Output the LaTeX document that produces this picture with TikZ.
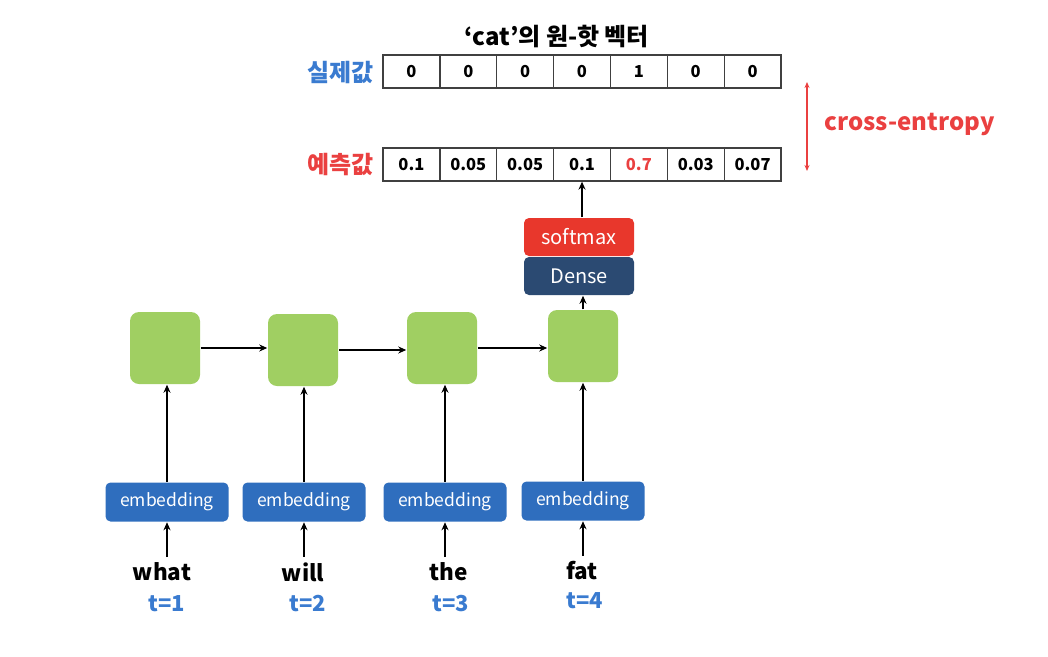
\documentclass[tikz,border=0pt]{standalone}
\usepackage{fontspec}
\setmainfont{Noto Sans CJK KR}
\usetikzlibrary{arrows.meta}
\definecolor{cellgreen}{HTML}{A0CF62}
\definecolor{embblue}{HTML}{2F6EBE}
\definecolor{labblue}{HTML}{3A7BD0}
\definecolor{softred}{HTML}{E8372C}
\definecolor{densblue}{HTML}{2B4A72}
\definecolor{lossred}{HTML}{EA4040}
\newcommand{\fsz}[1]{\fontsize{#1}{#1}\selectfont}

\begin{document}
\begin{tikzpicture}[x=1pt, y=-1pt, line width=1.5pt, >={Stealth[length=8pt,width=7pt]},
    every node/.style={inner sep=0pt},
    cell/.style={draw=black!75, line width=1.3pt, minimum width=56.9pt,
      minimum height=33pt, font=\fsz{16.5}\bfseries},
    rnn/.style={fill=cellgreen, rounded corners=9pt, minimum width=70pt,
      minimum height=72pt},
    embed/.style={fill=embblue, rounded corners=5pt, minimum width=123pt,
      minimum height=39pt, text=white, font=\fsz{17.5}},
    layer/.style={rounded corners=5pt, minimum width=110pt,
      minimum height=38pt, text=white, font=\fsz{20}},
    word/.style={font=\fsz{22.5}\bfseries},
    tstep/.style={text=labblue, font=\fsz{22}\bfseries}]
  \useasboundingbox (0,0) rectangle (1048,656);

  % one-hot target and prediction
  \node[font=\fsz{24}\bfseries] (title) at (557,36) {‘cat’의 원-핫 벡터};
  \foreach \v [count=\i] in {0,0,0,0,1,0,0}
    \node[cell] (t\i) at ({383+56.86*(\i-0.5)},71.5) {\v};
  \foreach \v/\c [count=\i] in {0.1/black,0.05/black,0.05/black,0.1/black,0.7/lossred,0.03/black,0.07/black}
    \node[cell, text=\c] (p\i) at ({383+56.86*(\i-0.5)},164.5) {\v};
  \node[text=labblue, font=\fsz{24}\bfseries, anchor=east] (real) at (374,72) {실제값};
  \node[text=lossred, font=\fsz{24}\bfseries, anchor=east] (pred) at (374,165) {예측값};
  \coordinate (ctop) at (807,82);
  \coordinate (cbot) at (807,171);
  \draw[{Stealth[length=6pt,width=5pt]}-{Stealth[length=6pt,width=5pt]},
    lossred, line width=1.2pt] (ctop) -- (cbot);
  \node[text=lossred, font=\fsz{24}\bfseries, anchor=west] (loss) at (824,124) {cross-entropy};

  % output layers
  \node[layer, fill=softred] (soft) at (579,237) {softmax};
  \node[layer, fill=densblue] (dense) at (579,276) {Dense};

  % rnn cells
  \node[rnn] (h1) at (165,348) {};
  \node[rnn] (h2) at (303,350) {};
  \node[rnn] (h3) at (442,348) {};
  \node[rnn] (h4) at (583,346) {};

  \node[embed] (e1) at (167,502) {embedding};
  \node[embed] (e2) at (304,502) {embedding};
  \node[embed] (e3) at (445,502) {embedding};
  \node[embed] (e4) at (583,501) {embedding};

  \node[word] (w1) at (162,572) {what};
  \node[word] (w2) at (303,572) {will};
  \node[word] (w3) at (449,572) {the};
  \node[word] (w4) at (582,571) {fat};

  \node[tstep] (s1) at (167,604) {t=1};
  \node[tstep] (s2) at (308,604) {t=2};
  \node[tstep] (s3) at (451,604) {t=3};
  \node[tstep] (s4) at (585,601) {t=4};

  \draw[->] (h1.east) -- (h1.east -| h2.west);
  \draw[->] (h2.east) -- (h2.east -| h3.west);
  \draw[->] (h3.east) -- (h3.east -| h4.west);
  \draw[->] (h4.north) -- (h4.north |- dense.south);
  \draw[->] (p4.south |- soft.north) -- (p4.south);
  \foreach \i in {1,...,4} {
    \draw[->] (e\i) -- (e\i |- h\i.south);
    \draw[->, shorten <=5pt] (e\i |- w\i.north) -- (e\i);
  }
\end{tikzpicture}
\end{document}
